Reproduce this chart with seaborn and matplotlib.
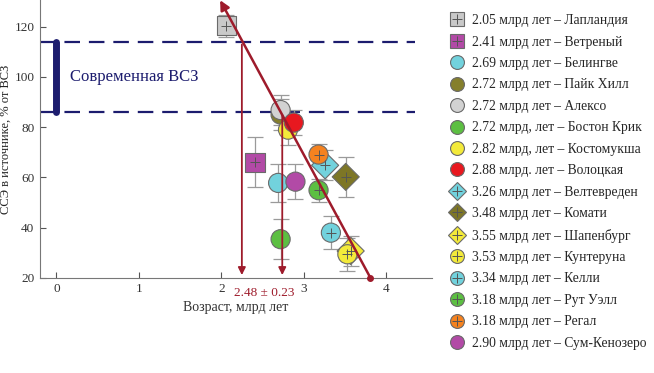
import matplotlib
matplotlib.use("Agg")
import matplotlib.pyplot as plt
import seaborn as sns
import pandas as pd
from matplotlib.lines import Line2D

sns.set_theme(style="ticks")
plt.rcParams['font.family'] = ['Liberation Serif', 'DejaVu Serif']

labels = ["2.05 млрд лет – Лапландия", "2.41 млрд лет – Ветреный", "2.69 млрд лет – Белингве",
          "2.72 млрд лет – Пайк Хилл", "2.72 млрд лет – Алексо", "2.72 млрд, лет – Бостон Крик",
          "2.82 млрд, лет – Костомукша", "2.88 млрд. лет – Волоцкая", "3.26 млрд лет – Велтевреден",
          "3.48 млрд лет – Комати", "3.55 млрд лет – Шапенбург", "3.53 млрд лет – Кунтеруна",
          "3.34 млрд лет – Келли", "3.18 млрд лет – Рут Уэлл", "3.18 млрд лет – Регал",
          "2.90 млрд лет – Сум-Кенозеро"]
ages = [2.06, 2.41, 2.69, 2.72, 2.72, 2.72, 2.81, 2.88, 3.26, 3.51, 3.57, 3.53, 3.33, 3.18, 3.18, 2.90]
cce = [120.3, 66.0, 57.8, 85.0, 86.8, 35.4, 79.0, 81.8, 64.8, 60.2, 30.7, 29.4, 38.0, 54.9, 69.1, 58.3]
err = [4.5, 10.0, 7.5, 6.0, 6.0, 8.0, 6.0, 5.0, 6.0, 8.0, 6.0, 6.5, 6.5, 4.5, 4.0, 7.0]
colors = ["#c9c9c9", "#b24aa6", "#72d2dd", "#857f2c", "#d2d2d2", "#5cbf42", "#f3ea3a", "#e8181f",
          "#72d2dd", "#7d7626", "#f3ea3a", "#f3ea3a", "#72d2dd", "#5cbf42", "#f5821f", "#b24aa6"]
shapes = ["s", "s", "o", "o", "o", "o", "o", "o", "D", "D", "D", "o", "o", "o", "o", "o"]
has_plus = [True, True, False, False, False, False, False, False, True, True, True, True, True, True, True, False]

# trend line and ages of the modern continental crust levels
trend_start = (3.81, 20.0)
trend_end = (1.97, 131.5)
vcz_levels = [86.0, 114.0]
cut_ages = [2.25, 2.74]
ann_text = "2.48 ± 0.23"

df = pd.DataFrame({"label": labels, "age": ages, "cce": cce, "err": err})

fig = plt.figure(figsize=(6.54, 3.73), dpi=100)
ax = fig.add_axes([0.061, 0.255, 0.600, 0.745])

RED = "#9e1b2b"
NAVY = "#1c1c6e"

# modern VCZ
for lv in vcz_levels:
    ax.plot([-0.2, 4.35], [lv, lv], color=NAVY, lw=1.6, dashes=(7, 4), zorder=1)
ax.plot([0, 0], vcz_levels, color=NAVY, lw=5, solid_capstyle="round", zorder=2)
ax.text(0.17, 100, "Современная ВСЗ", color=NAVY, fontsize=12, va="center", ha="left")

# error bars
ax.errorbar(df["age"], df["cce"], yerr=df["err"], fmt="none", ecolor="#9a9a9a",
            elinewidth=0.9, capsize=5.5, capthick=0.9, zorder=2)

pal = dict(zip(labels, colors))
mk = dict(zip(labels, shapes))
sns.scatterplot(data=df, x="age", y="cce", hue="label", style="label", palette=pal,
                markers=mk, s=190, edgecolor="#6a6a6a", linewidth=0.8, legend=False,
                ax=ax, zorder=3)
dplus = df[has_plus]
sns.scatterplot(data=dplus, x="age", y="cce", marker="+", color="#555555", s=60,
                linewidth=0.7, legend=False, ax=ax, zorder=4)

# trend line with arrows
ax.annotate("", xy=trend_end, xytext=trend_start,
            arrowprops=dict(arrowstyle="-|>", color=RED, lw=1.8, mutation_scale=14),
            zorder=5, annotation_clip=False)
ax.plot([trend_start[0]], [trend_start[1]], "o", color=RED, ms=4, zorder=5, clip_on=False)
for xa, lv in zip(cut_ages, [vcz_levels[1], vcz_levels[0]]):
    ax.annotate("", xy=(xa, 20), xytext=(xa, lv),
                arrowprops=dict(arrowstyle="-|>", color=RED, lw=1.3, mutation_scale=11),
                zorder=5)
ax.text(2.52, 16.5, ann_text, color=RED, fontsize=9.5, ha="center", va="top")

ax.set_xlim(-0.2, 4.56)
ax.set_ylim(20, 130.6)
ax.set_xticks([0, 1, 2, 3, 4])
ax.set_yticks([20, 40, 60, 80, 100, 120])
ax.tick_params(direction="in", length=4, width=0.8, colors="#555555", labelsize=9.5,
               labelcolor="#333333", pad=4)
for s in ["top", "right"]:
    ax.spines[s].set_visible(False)
for s in ["left", "bottom"]:
    ax.spines[s].set_color("#777777")
    ax.spines[s].set_linewidth(0.8)
ax.set_xlabel("Возраст, млрд лет", fontsize=10, color="#333333", labelpad=4)
ax.set_ylabel("ССЭ в источнике, % от ВСЗ", fontsize=9, color="#222222", labelpad=2)
ax.yaxis.set_label_coords(-0.072, 0.5)

handles = []
for c, m, p in zip(colors, shapes, has_plus):
    base = Line2D([], [], ls="none", marker=m, markersize=10 if m != "D" else 9,
                  markerfacecolor=c, markeredgecolor="#6a6a6a", markeredgewidth=0.8)
    if p:
        plus = Line2D([], [], ls="none", marker="+", markersize=7, color="#555555", markeredgewidth=0.7)
        handles.append((base, plus))
    else:
        handles.append(base)
fig.legend(handles, labels, loc="upper left", bbox_to_anchor=(0.686, 0.962), frameon=False,
           fontsize=9.8, labelspacing=0.62, handletextpad=0.55, handlelength=1.2,
           borderaxespad=0, borderpad=0)

fig.savefig("out.png", dpi=100)
